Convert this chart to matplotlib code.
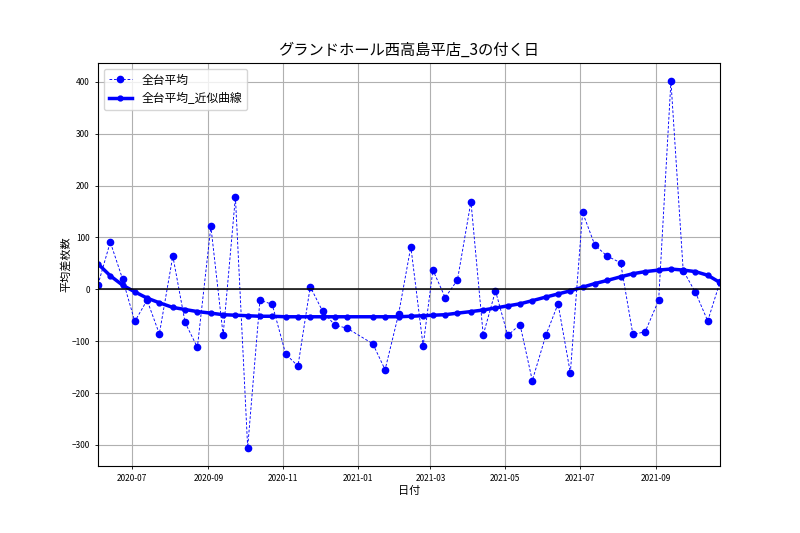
import matplotlib
matplotlib.use("Agg")
import matplotlib.pyplot as plt
import matplotlib.dates as mdates
import numpy as np
import pandas as pd

plt.rcParams['font.family'] = ['Noto Sans CJK JP', 'DejaVu Sans']

# days with a "3" in them (2021-01-03 is missing)
dates = pd.to_datetime([
    "2020-06-03", "2020-06-13", "2020-06-23",
    "2020-07-03", "2020-07-13", "2020-07-23",
    "2020-08-03", "2020-08-13", "2020-08-23",
    "2020-09-03", "2020-09-13", "2020-09-23",
    "2020-10-03", "2020-10-13", "2020-10-23",
    "2020-11-03", "2020-11-13", "2020-11-23",
    "2020-12-03", "2020-12-13", "2020-12-23",
    "2021-01-13", "2021-01-23",
    "2021-02-03", "2021-02-13", "2021-02-23",
    "2021-03-03", "2021-03-13", "2021-03-23",
    "2021-04-03", "2021-04-13", "2021-04-23",
    "2021-05-03", "2021-05-13", "2021-05-23",
    "2021-06-03", "2021-06-13", "2021-06-23",
    "2021-07-03", "2021-07-13", "2021-07-23",
    "2021-08-03", "2021-08-13", "2021-08-23",
    "2021-09-03", "2021-09-13", "2021-09-23",
    "2021-10-03", "2021-10-13", "2021-10-23",
])

avg_diff = [
    9, 91, 20,
    -62, -21, -86,
    64, -64, -112,
    121, -88, 178,
    -305, -21, -29,
    -125, -148, 5,
    -42, -69, -75,
    -105, -155,
    -48, 82, -109,
    37, -16, 18,
    169, -88, -3,
    -89, -68, -176,
    -89, -28, -161,
    148, 85, 64,
    51, -87, -82,
    -21, 401, 36,
    -6, -61, 14,
]

fit_curve = [
    49, 26, 8,
    -5, -17, -26,
    -35, -39, -43,
    -46, -49, -50,
    -51, -52, -52,
    -53, -53, -53,
    -53, -53, -53,
    -53, -53,
    -53, -52, -51,
    -50, -49, -46,
    -43, -40, -36,
    -32, -28, -22,
    -15, -9, -3,
    4, 11, 17,
    24, 30, 34,
    37, 39, 37,
    34, 27, 13,
]

fig, ax = plt.subplots(figsize=(8, 5.33), dpi=100)
fig.subplots_adjust(left=0.1225, right=0.9, top=0.882, bottom=0.126)

ax.plot(dates, avg_diff, color='blue', linestyle='--', linewidth=0.65,
        dashes=(3, 2), marker='o', markersize=4.5, label='全台平均')
ax.plot(dates, fit_curve, color='blue', linestyle='-', linewidth=2.5,
        marker='o', markersize=3.5, label='全台平均_近似曲線')
ax.axhline(0, color='black', linewidth=1.1)

ax.set_xlim(dates[0], dates[-1])
ax.xaxis.set_major_locator(mdates.MonthLocator(bymonth=[1, 3, 5, 7, 9, 11]))
ax.xaxis.set_major_formatter(mdates.DateFormatter('%Y-%m'))
ax.grid(True, color='#b0b0b0', linewidth=0.8)
ax.tick_params(labelsize=6, length=2.5, width=0.6)

ax.set_title('グランドホール西高島平店_3の付く日', fontsize=11)
ax.set_xlabel('日付', fontsize=8, labelpad=2)
ax.set_ylabel('平均差枚数', fontsize=8, labelpad=0)
ax.legend(loc='upper left', fontsize=8.5)

fig.savefig('out.png', dpi=100)
